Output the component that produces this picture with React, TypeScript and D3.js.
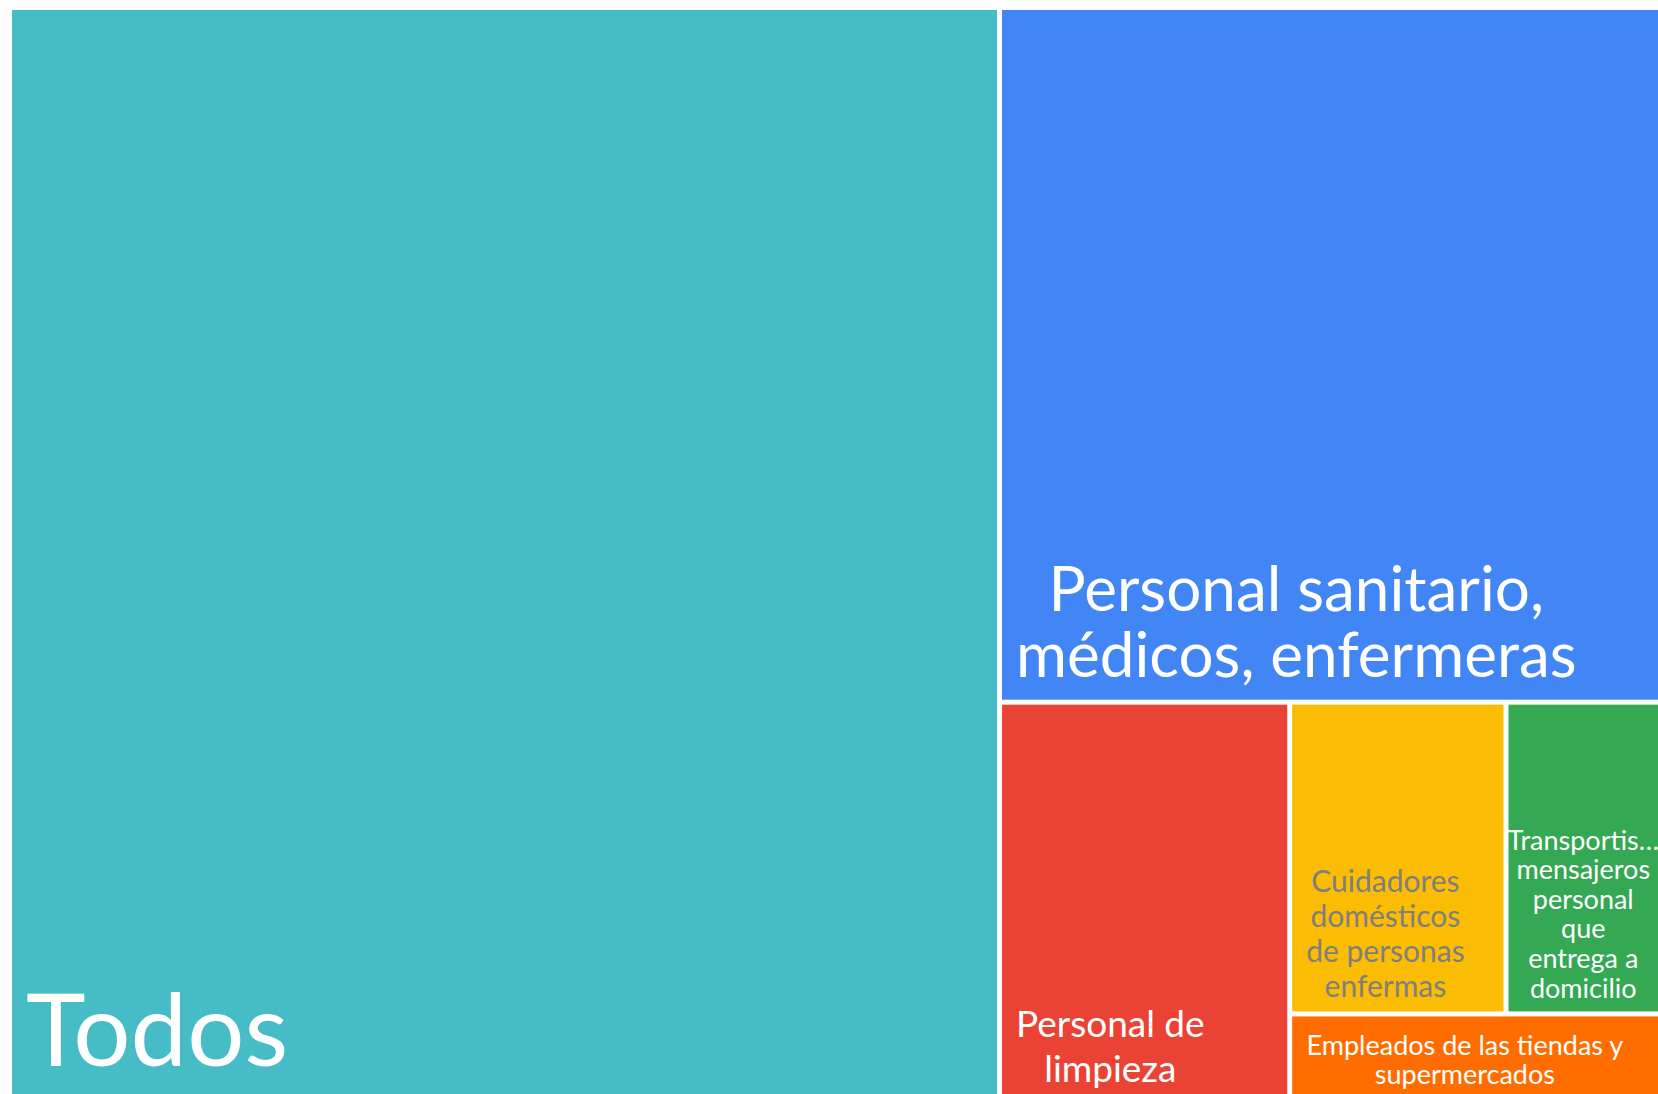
import React, { useMemo } from "react";
import * as d3 from "d3";

const categories = [
  "Todos",
  "Personal sanitario, médicos, enfermeras",
  "Personal de limpieza",
  "Cuidadores domésticos de personas enfermas",
  "Transportistas, mensajeros, personal que entrega a domicilio",
  "Empleados de las tiendas y supermercados",
];
const responses = [337, 143, 36, 21, 15, 10];

// label text as it wraps in the reference
const labelLines = [
  ["Todos"],
  ["Personal sanitario,", "médicos, enfermeras"],
  ["Personal de", "limpieza"],
  ["Cuidadores", "domésticos", "de personas", "enfermas"],
  ["Transportis…", "mensajeros", "personal", "que", "entrega a", "domicilio"],
  ["Empleados de las tiendas y", "supermercados"],
];

const tileColors = ["#46BDC6", "#4285F4", "#EA4335", "#FBBC04", "#34A853", "#FF6D01"];
const textColors = ["#ffffff", "#ffffff", "#ffffff", "#7f7f7f", "#ffffff", "#ffffff"];
const fontSizes = [101, 62, 37, 30, 27, 27];
const lineHeights = [100, 66, 45, 35, 29.6, 29];

const W = 1658;
const H = 1094;
const left = 12;
const top = 10;
const FONT = "Lato, 'Open Sans', sans-serif";
const PAD = 14;

const measure = (() => {
  const ctx = document.createElement("canvas").getContext("2d");
  return (txt: string, size: number) => {
    if (!ctx) return txt.length * size * 0.5;
    ctx.font = `${size}px Lato`;
    return ctx.measureText(txt).width;
  };
})();

export default function App() {
  const leaves = useMemo(() => {
    const root = d3
      .hierarchy({ children: categories.map((name, i) => ({ name, i, value: responses[i] })) } as any)
      .sum((d: any) => d.value || 0)
      .sort((a, b) => (b.value || 0) - (a.value || 0));
    d3.treemap().tile(d3.treemapSquarify.ratio(1)).size([W - left, 1088]).paddingInner(5)(root);
    return root.leaves() as any[];
  }, []);

  return (
    <svg
      width={W}
      height={H}
      style={{ position: "absolute", left: 0, top: 0, background: "#fff" }}
      fontFamily={FONT}
    >
      <g transform={`translate(${left},${top})`}>
        {leaves.map((d) => {
          const i = d.data.i;
          const fs = fontSizes[i];
          const lh = lineHeights[i];
          const lines = labelLines[i];
          const boxW = d.x1 - d.x0;
          const blockW = Math.min(d3.max(lines, (l) => measure(l, fs)) || 0, boxW - 2 * PAD);
          const cx = d.x0 + PAD + blockW / 2;
          const lastBase = d.y1 - (fs * 0.25 + 7);
          return (
            <g key={d.data.name}>
              <rect
                x={d.x0}
                y={d.y0}
                width={d.x1 - d.x0}
                height={d.y1 - d.y0}
                fill={tileColors[i]}
              />
              <text fill={textColors[i]} fontSize={fs} textAnchor="middle">
                {lines.map((l, k) => (
                  <tspan key={k} x={cx} y={lastBase - (lines.length - 1 - k) * lh}>
                    {l}
                  </tspan>
                ))}
              </text>
            </g>
          );
        })}
      </g>
    </svg>
  );
}
